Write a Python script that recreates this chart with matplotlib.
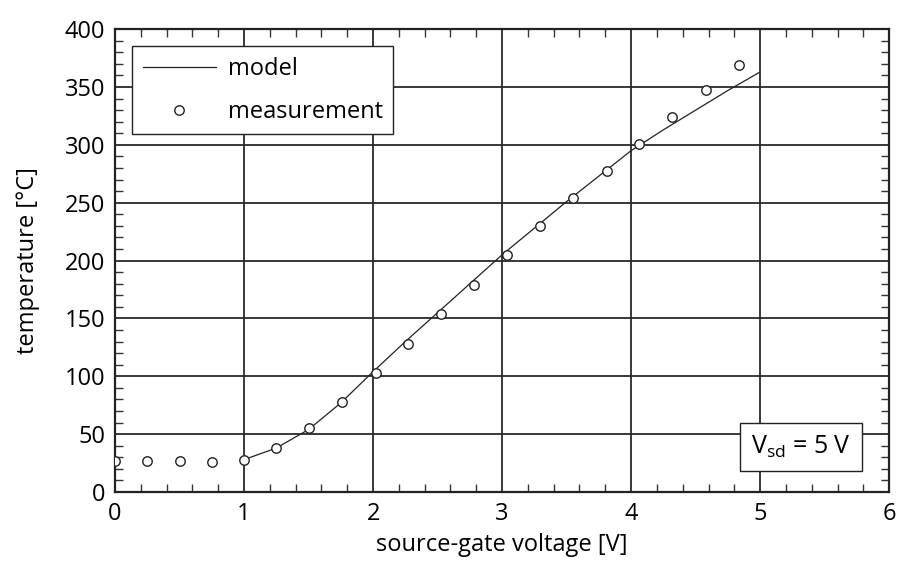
import numpy as np
import matplotlib
matplotlib.use('Agg')
import matplotlib.pyplot as plt
from matplotlib.ticker import MultipleLocator

plt.rcParams['font.family'] = ['Open Sans', 'DejaVu Sans']
plt.rcParams['mathtext.default'] = 'regular'

# measured temperature vs. source-gate voltage
v_meas = [0.0, 0.25, 0.5, 0.75, 1.0, 1.25, 1.5, 1.76, 2.02, 2.27,
          2.53, 2.78, 3.04, 3.29, 3.55, 3.81, 4.06, 4.32, 4.58, 4.84]
t_meas = [27, 27, 27, 26, 28, 38, 55, 78, 103, 128,
          154, 179, 205, 230, 254, 277, 301, 324, 347, 369]

# model curve
v_model = [1.0, 1.25, 1.5, 1.75, 2.0, 2.25, 2.5, 2.75, 3.0, 3.25,
           3.5, 3.75, 4.0, 4.25, 4.5, 4.75, 5.0]
t_model = [28, 38, 54, 77, 104, 130, 155, 180, 205, 228,
           251, 273, 295, 313, 330, 347, 363]

fig = plt.figure(figsize=(8.99, 5.61), dpi=100)
ax = fig.add_axes([0.128, 0.123, 0.861, 0.825])

ax.plot(v_model, t_model, color='#222222', lw=0.9, label='model', zorder=3)
ax.plot(v_meas, t_meas, 'o', ms=6.8, mfc='white', mec='#222222', mew=1.0,
        label='measurement', zorder=4)

ax.set_xlim(0, 6)
ax.set_ylim(0, 400)
ax.xaxis.set_major_locator(MultipleLocator(1))
ax.xaxis.set_minor_locator(MultipleLocator(0.2))
ax.yaxis.set_major_locator(MultipleLocator(50))
ax.yaxis.set_minor_locator(MultipleLocator(10))
ax.grid(True, which='major', color='#2a2a2a', lw=1.3)
ax.tick_params(which='both', direction='in', top=True, right=True,
               color='#333333', labelsize=17)
ax.tick_params(which='minor', length=6, width=1.0)
ax.tick_params(which='major', length=0, pad=7)
for s in ax.spines.values():
    s.set_linewidth(1.6)
    s.set_color('#222222')

ax.set_xlabel('source-gate voltage [V]', fontsize=17, labelpad=5)
ax.set_ylabel('temperature [°C]', fontsize=17, labelpad=18)

leg = ax.legend(loc='upper left', bbox_to_anchor=(0.022, 0.963),
                borderaxespad=0, fancybox=False, fontsize=17,
                handlelength=3.1, handletextpad=0.5, borderpad=0.45,
                labelspacing=0.8, framealpha=1)
leg.get_frame().set_edgecolor('#222222')
leg.get_frame().set_linewidth(1.0)

ax.text(0.886, 0.097, r'$V_{sd}$ = 5 V', transform=ax.transAxes,
        fontsize=18, ha='center', va='center', zorder=5,
        bbox=dict(boxstyle='square,pad=0.45', fc='white', ec='#222222', lw=1.0))

fig.savefig('out.png', dpi=100)
